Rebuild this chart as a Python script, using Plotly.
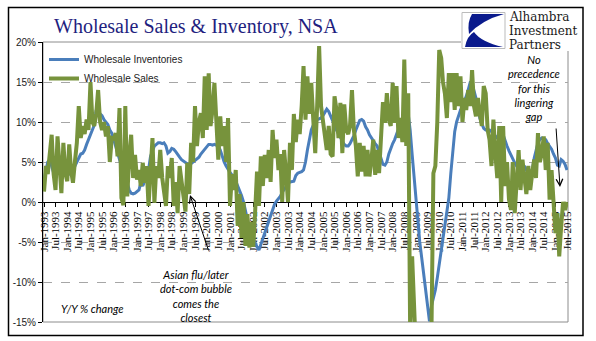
import pandas as pd
import plotly.graph_objects as go

# ---------------- data ----------------
months = pd.date_range("1993-01-01", periods=271, freq="MS")

inventories = [
    2.8, 4.0, 5.0, 5.3, 4.5, 3.6, 3.8, 4.0, 3.6, 3.4, 3.5, 3.6,          # 1993
    3.6, 3.5, 3.7, 4.0, 4.5, 5.0, 5.5, 6.0, 6.1, 6.5, 7.2, 7.8,          # 1994
    8.2, 8.8, 9.6, 11.5, 11.3, 11.1, 10.8, 10.3, 10.0, 9.7, 9.0, 8.6,    # 1995
    7.8, 7.0, 6.0, 5.3, 4.5, 4.0, 3.0, 2.4, 1.5, 1.1, 1.0, 1.1,          # 1996
    1.3, 1.5, 2.4, 2.0, 2.6, 3.2, 4.0, 5.7, 6.5, 7.0, 7.2, 7.4,          # 1997
    7.4, 7.3, 7.4, 7.0, 6.1, 6.3, 6.7, 6.6, 6.3, 5.9, 5.6, 5.3,          # 1998
    5.1, 4.9, 4.7, 4.6, 4.8, 5.0, 5.1, 5.3, 5.6, 6.0, 6.3, 6.6,          # 1999
    7.0, 7.2, 7.2, 7.1, 7.2, 7.1, 7.0, 6.5, 5.7, 5.0, 4.5, 4.0,          # 2000
    3.7, 3.4, 3.1, 2.6, 2.0, 1.5, 0.8, 0.0, -1.2, -2.4, -3.3, -4.0,      # 2001
    -4.6, -5.1, -5.6, -6.0, -5.3, -4.7, -4.0, -3.3, -2.5, -1.8, -1.0, -0.3,  # 2002
    0.1, 0.4, 0.7, 1.2, 1.6, 2.0, 2.3, 2.5, 2.6, 2.6, 3.3, 3.6,          # 2003
    3.7, 3.8, 4.0, 5.0, 6.5, 8.0, 9.0, 9.6, 10.0, 10.3, 10.4, 10.5,      # 2004
    10.8, 11.2, 11.6, 11.3, 10.8, 10.2, 9.6, 9.0, 8.5, 8.0, 7.6, 7.2,    # 2005
    7.0, 7.0, 7.3, 7.8, 8.3, 9.0, 9.6, 10.2, 10.3, 10.1, 9.4, 9.0,       # 2006
    8.4, 8.0, 7.6, 7.3, 7.0, 6.2, 5.2, 4.7, 4.6, 5.0, 6.0, 6.8,          # 2007
    7.3, 7.8, 8.4, 9.0, 9.8, 10.5, 11.3, 12.0, 11.0, 9.0, 6.0, 3.0,      # 2008
    0.0, -2.5, -5.0, -7.0, -9.0, -11.0, -13.0, -14.9, -13.0, -12.0, -11.0, -9.5,  # 2009
    -7.7, -6.0, -4.4, -3.0, -1.4, 0.5, 3.5, 6.5, 8.8, 10.0, 10.8, 11.5,  # 2010
    12.0, 12.6, 13.2, 14.0, 14.9, 14.8, 14.0, 13.0, 11.8, 10.5, 9.8, 9.2,  # 2011
    9.0, 9.0, 9.0, 8.8, 8.5, 8.3, 8.0, 7.8, 8.2, 8.4, 7.6, 7.0,          # 2012
    6.4, 5.8, 5.3, 4.9, 4.5, 4.2, 4.0, 3.8, 4.5, 4.0, 3.6, 3.8,          # 2013
    4.0, 5.5, 6.5, 7.4, 7.8, 8.0, 7.9, 7.8, 7.3, 7.0, 6.6, 6.0,          # 2014
    5.5, 4.6, 4.5, 5.3, 5.1, 4.7, 4.0,                                   # 2015
]

sales = [
    1.3, 4.5, 3.5, 6.5, 8.4, 3.5, 1.5, 8.2, 4.0, 1.1, 7.4, 3.6,          # 1993
    2.6, 7.2, 4.0, 2.4, 5.0, 7.4, 12.0, 8.0, 9.5, 8.5, 10.3, 9.0,        # 1994
    15.0, 10.0, 9.5, 11.0, 14.0, 10.0, 9.0, 10.0, 8.2, 9.5, 5.0, 8.0,    # 1995
    7.9, 8.6, 5.7, 11.75, 0.5, -0.4, 12.0, 0.7, 5.7, 8.4, 3.0, 5.9,      # 1996
    2.8, 4.0, 2.0, 4.9, 2.4, 4.5, -0.5, 4.0, 8.0, -0.1, 4.5, 3.0,        # 1997
    6.5, 3.0, 1.5, -0.5, 4.5, 3.0, 5.5, -0.5, 2.5, -1.4, 4.5, 2.5,       # 1998
    0.0, -1.2, 4.9, 1.0, 7.4, 5.0, 12.0, 7.0, 10.0, 11.1, 8.0, 15.7,     # 1999
    9.0, 16.1, 9.5, 11.5, 14.9, 9.0, 5.3, 10.7, 7.0, 9.5, 5.0, 10.5,     # 2000
    -0.5, 3.5, 1.5, 4.0, -3.0, 1.0, -4.5, 0.0, -5.5, -1.5, -5.7, -2.5,   # 2001
    -5.6, -1.0, 3.8, -0.5, 5.7, 2.0, 5.9, 3.0, 6.5, 2.5, 9.0, 5.5,       # 2002
    7.8, 4.0, 6.0, 0.0, 6.5, 3.5, 0.0, 7.4, 4.0, 11.0, 7.5, 10.3,        # 2003
    8.5, 12.0, 17.0, 10.3, 15.7, 11.0, 14.9, 10.3, 6.1, 12.0, 19.5, 12.0,  # 2004
    9.9, 8.2, 6.5, 9.5, 6.0, 5.7, 13.2, 11.5, 8.0, 12.4, 6.1, 12.2,      # 2005
    9.0, 8.5, 9.5, 14.0, 9.0, 7.0, 3.2, 7.4, 3.8, 7.0, 3.2, 6.5,         # 2006
    3.2, 5.3, 7.8, 3.4, 6.5, 3.6, 8.6, 12.5, 9.9, 13.6, 10.3, 9.5,       # 2007
    14.9, 9.9, 14.5, 8.0, 10.5, 7.5, 17.8, 7.0, 13.6, -16.0, -6.8, -17.0,  # 2008
    -19.0, -20.0, -21.0, -20.0, -19.0, -18.0, -17.0, -18.0, -16.0, 3.6, 4.5, 9.9,  # 2009
    19.0, 18.0, 15.0, 13.5, 10.5, 16.1, 12.5, 16.1, 11.5, 16.1, 12.0, 15.7,  # 2010
    10.0, 13.0, 11.5, 14.0, 12.0, 16.5, 12.0, 10.7, 13.0, 11.0, 9.5, 14.5,  # 2011
    13.6, 9.0, 7.8, 4.5, 10.3, 6.0, 3.0, 9.5, 0.0, 9.5, 2.0, 5.0,        # 2012
    0.3, -1.0, 5.0, -1.4, 3.0, 6.5, 1.5, 5.3, 3.0, 1.0, 4.5, 1.5,        # 2013
    3.6, 5.3, 3.0, 8.6, 5.0, 6.1, 8.2, 4.0, 7.4, 0.3, 4.0, -0.5,         # 2014
    -3.9, -1.4, -6.8, -3.0, 0.0, -1.0, 0.0,                              # 2015
]

y_tick_values = [-15, -10, -5, 0, 5, 10, 15, 20]
y_tick_labels = ["-15%", "-10%", "-5%", "0%", "5%", "10%", "15%", "20%"]

# ---------------- layout helpers ----------------
W, H = 596, 341
L, R, T, B = 43, 568, 42, 322
Y_MIN, Y_MAX = -15, 20


def px(x, y):
    return (x - L) / (R - L), (B - y) / (B - T)


def pxx(x):
    return px(x, 0)[0]


def pxy(y):
    return px(0, y)[1]


def path(cmds):
    out = []
    for c in cmds:
        if isinstance(c, str):
            out.append(c)
        else:
            a, b = px(*c)
            out.append(f"{a:.5f},{b:.5f}")
    return " ".join(out)


fig = go.Figure()
fig.add_trace(go.Scatter(x=months, y=inventories, mode="lines",
                         name="Wholesale Inventories",
                         line=dict(color="#4A7EBB", width=3)))
fig.add_trace(go.Scatter(x=months, y=sales, mode="lines",
                         name="Wholesale Sales",
                         line=dict(color="#77933C", width=4)))

shapes = [
    # plot-area border
    dict(type="rect", xref="paper", yref="paper", x0=0, x1=1, y0=0, y1=1,
         line=dict(color="#8C8C8C", width=1), layer="below"),
    # outer chart border
    dict(type="rect", xref="paper", yref="paper",
         x0=pxx(8.5), x1=pxx(583), y0=pxy(335.5), y1=pxy(7.5),
         line=dict(color="black", width=1.5), layer="above"),
    # logo background
    dict(type="rect", xref="paper", yref="paper",
         x0=pxx(461), x1=pxx(581), y0=pxy(51), y1=pxy(9),
         fillcolor="white", line=dict(width=0), layer="above"),
    dict(type="rect", xref="paper", yref="paper",
         x0=pxx(462), x1=pxx(505), y0=pxy(48.5), y1=pxy(12.5),
         fillcolor="white", line=dict(color="#BBBBBB", width=1), layer="above"),
    dict(type="path", xref="paper", yref="paper", layer="above",
         path=path(["M", (472, 14), "L", (504, 14), "Q", (482, 20), (469, 34),
                    "Q", (467, 22), (472, 14), "Z"]),
         fillcolor="#0A1A8C", line=dict(width=0)),
    dict(type="path", xref="paper", yref="paper", layer="above",
         path=path(["M", (465, 47), "Q", (467, 36), (474, 32), "Q", (481, 42), (503, 47), "Z"]),
         fillcolor="#0A1A8C", line=dict(width=0)),
]

ital = dict(family="Lato", size=11, color="black")
logo_font = dict(family="DejaVu Serif", size=12, color="#1a1a1a")
annotations = [
    dict(text="Wholesale Sales & Inventory, NSA", x=pxx(52), y=pxy(27),
         xanchor="left", yanchor="middle",
         font=dict(family="Liberation Serif", size=20, color="#1F1F80")),
    dict(text="Alhambra", x=pxx(507), y=pxy(16.5), xanchor="left", yanchor="middle",
         font=logo_font),
    dict(text="Investment", x=pxx(507), y=pxy(31), xanchor="left", yanchor="middle",
         font=logo_font),
    dict(text="Partners", x=pxx(507), y=pxy(45.5), xanchor="left", yanchor="middle",
         font=logo_font),
    dict(text="<i>Asian flu/later<br>dot-com bubble<br>comes the<br>closest</i>",
         x=pxx(196), y=pxy(295.5), xanchor="center", yanchor="middle", font=ital),
    dict(text="<i>Y/Y % change</i>", x=pxx(92), y=pxy(308), xanchor="center",
         yanchor="middle", font=dict(family="Lato", size=11, color="black")),
    dict(text="<i>No<br>precedence<br>for this<br>lingering<br>gap</i>",
         x=pxx(534), y=pxy(88), xanchor="center", yanchor="middle", font=ital),
    # arrows
    dict(text="", x=pxx(190), y=pxy(195), ax=19, ay=57, showarrow=True,
         arrowhead=5, arrowsize=1.3, arrowwidth=1, arrowcolor="black"),
    dict(text="", x=pxx(560), y=pxy(187), ax=-4, ay=-60, showarrow=True,
         arrowhead=5, arrowsize=1.3, arrowwidth=1, arrowcolor="black"),
]
for a in annotations:
    a.setdefault("xref", "paper")
    a.setdefault("yref", "paper")
    a.setdefault("showarrow", False)

fig.update_layout(
    width=W, height=H,
    margin=dict(l=L, r=W - R, t=T, b=H - B, pad=0),
    paper_bgcolor="white", plot_bgcolor="white",
    showlegend=True,
    legend=dict(x=pxx(44), y=pxy(45), xanchor="left", yanchor="top",
                bgcolor="rgba(0,0,0,0)", tracegroupgap=0,
                font=dict(family="Liberation Sans", size=10, color="#222222")),
    xaxis=dict(type="date", range=["1992-12-16", "2015-07-17"],
               anchor="free", position=(0 - Y_MIN) / (Y_MAX - Y_MIN),
               tick0="1993-01-01", dtick="M6", tickformat="%b-%Y",
               tickangle=-90, ticks="outside", ticklen=4, tickcolor="black",
               showline=True, linecolor="black", linewidth=1,
               showgrid=False, zeroline=False, layer="below traces",
               automargin=False,
               tickfont=dict(family="Liberation Serif", size=11, color="black")),
    yaxis=dict(range=[Y_MIN, Y_MAX], tickvals=y_tick_values, ticktext=y_tick_labels,
               ticks="outside", ticklen=4, tickcolor="black",
               showline=True, linecolor="black", linewidth=1,
               showgrid=True, gridcolor="#A6A6A6", griddash="dash", gridwidth=1,
               zeroline=False, layer="below traces", automargin=False,
               tickfont=dict(family="Liberation Sans", size=10, color="#222222")),
    shapes=shapes,
    annotations=annotations,
)

fig.write_html("out.html")
